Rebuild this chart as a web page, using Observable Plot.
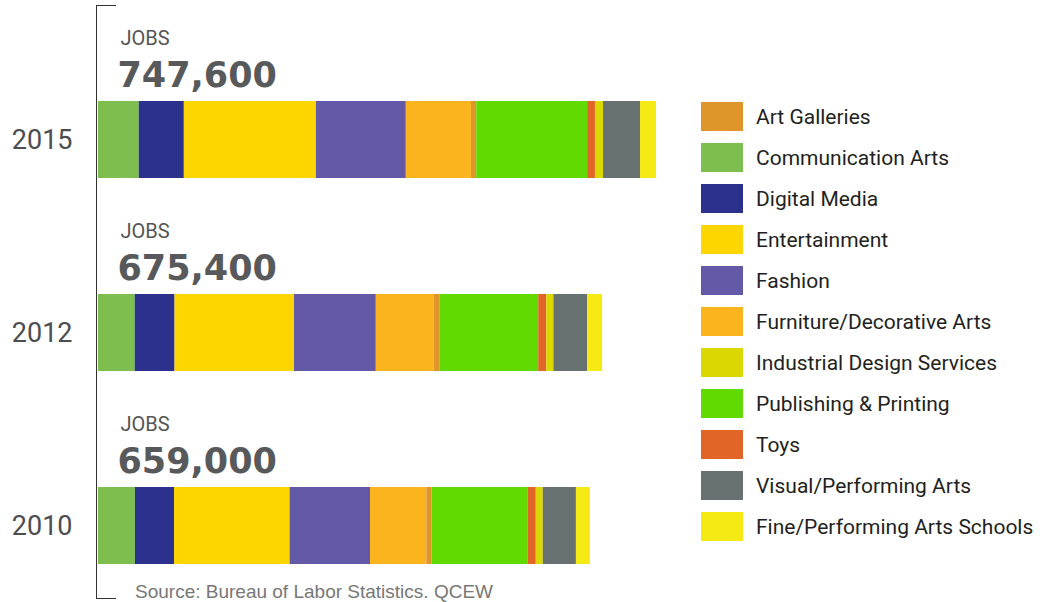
<!DOCTYPE html>
<html>
<head>
<meta charset="utf-8">
<script src="https://cdn.jsdelivr.net/npm/d3@7"></script>
<script src="https://cdn.jsdelivr.net/npm/@observablehq/plot@0.6"></script>
<style>
  html, body { margin: 0; padding: 0; background: #fff; }
  #wrap { position: relative; width: 1042px; height: 602px; overflow: hidden; background: #fff; }
  #chart { position: absolute; left: 0; top: 0; }
  #bracket { position: absolute; left: 96px; top: 5px; width: 20px; height: 594px;
             border: 1.5px solid #333; border-right: none; box-sizing: border-box; }
  #legend { position: absolute; left: 701px; top: 102px; }
  .lg-swatches { font-family: Roboto, sans-serif; font-size: 21px; color: #231f20; margin: 0; }
  .lg-swatch { padding-bottom: 12px !important; }
  .lg-swatch > svg { margin-right: 13px !important; }
  #source { position: absolute; left: 135px; top: 581px; font-family: "Liberation Sans", Arial, sans-serif;
            font-size: 19px; line-height: 22px; color: #777; white-space: nowrap; }
</style>
</head>
<body>
<div id="wrap">
  <div id="bracket"></div>
  <div id="chart"></div>
  <div id="legend"></div>
  <div id="source"></div>
</div>
<script>
// ---- data ----
const years = ["2015", "2012", "2010"];
const totals = [747600, 675400, 659000];
const totalLabel = "JOBS";
const sourceText = "Source: Bureau of Labor Statistics. QCEW";

// stacking order (left to right)
const stackOrder = [
  "Communication Arts", "Digital Media", "Entertainment", "Fashion",
  "Furniture/Decorative Arts", "Art Galleries", "Publishing & Printing",
  "Toys", "Industrial Design Services", "Visual/Performing Arts",
  "Fine/Performing Arts Schools"
];
// legend order and colours
const legendOrder = [
  "Art Galleries", "Communication Arts", "Digital Media", "Entertainment",
  "Fashion", "Furniture/Decorative Arts", "Industrial Design Services",
  "Publishing & Printing", "Toys", "Visual/Performing Arts",
  "Fine/Performing Arts Schools"
];
const colors = [
  "#e0952a", "#7dbe4f", "#2c318d", "#fdd600",
  "#6359a6", "#fbb41e", "#dad800",
  "#60da00", "#e06526", "#677171",
  "#f5ea14"
];
// jobs (thousands) in stackOrder
const jobs2015 = [54.6, 60.4, 176.9, 120.5, 87.3, 7.0, 148.7, 10.4, 10.8, 49.6, 21.4];
const jobs2012 = [49.2, 53.3, 160.1, 109.6, 77.7, 7.2, 132.7, 10.8, 9.5, 45.2, 20.1];
const jobs2010 = [49.4, 52.5, 154.8, 107.7, 75.5, 7.1, 128.7, 10.8, 9.4, 44.4, 18.7];

// ---- build table ----
const series = {"2015": jobs2015, "2012": jobs2012, "2010": jobs2010};
const rows = [];
for (const y of years) {
  series[y].forEach((v, i) => rows.push({year: y, category: stackOrder[i], value: v}));
}
const labels = years.map((y, i) => ({year: y, total: d3.format(",")(totals[i])}));
const maxTotal = d3.max(totals) / 1000;

const chart = Plot.plot({
  width: 1042,
  height: 602,
  marginLeft: 98,
  marginRight: 386,
  x: {axis: null, domain: [0, maxTotal]},
  y: {type: "band", domain: years, range: [101, 565], paddingInner: 0.6, paddingOuter: 0, axis: null},
  color: {type: "ordinal", domain: legendOrder, range: colors},
  style: {background: "transparent", overflow: "visible"},
  marks: [
    Plot.barX(rows, Plot.stackX({x: "value", y: "year", fill: "category", order: stackOrder})),
    Plot.axisY({tickSize: 0, tickPadding: 26, fontSize: 27, fontFamily: "Roboto", fill: "#4d4d4f", label: null}),
    Plot.text(labels, {x: 0, y: "year", text: () => totalLabel, textAnchor: "start", lineAnchor: "bottom",
      dx: 22, dy: -95, fontSize: 20, fontFamily: "Roboto", fill: "#555", style: "letter-spacing:1.5px"}),
    Plot.text(labels, {x: 0, y: "year", text: "total", textAnchor: "start", lineAnchor: "bottom",
      dx: 19, dy: -53, fontSize: 35, fontWeight: "bold", fontFamily: "DejaVu Sans", fill: "#58595b"})
  ]
});
document.getElementById("chart").appendChild(chart);

const legend = Plot.legend({
  color: {type: "ordinal", domain: legendOrder, range: colors},
  legend: "swatches",
  columns: 1,
  swatchWidth: 42,
  swatchHeight: 29,
  className: "lg"
});
document.getElementById("legend").appendChild(legend);
document.getElementById("source").textContent = sourceText;
</script>
</body>
</html>
